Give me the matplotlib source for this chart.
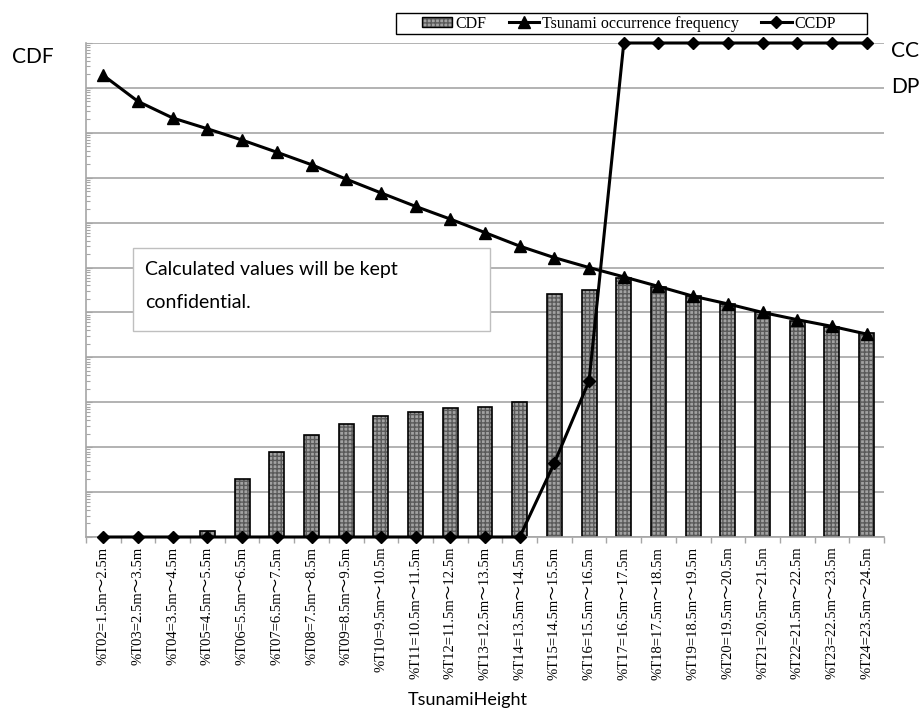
import numpy as np
import matplotlib
matplotlib.use("Agg")
import matplotlib.pyplot as plt
from matplotlib.patches import Patch, Rectangle
from matplotlib.lines import Line2D
from matplotlib.legend_handler import HandlerTuple
from matplotlib.ticker import LogLocator, NullFormatter, FixedLocator

categories = [
    "%T02=1.5m～2.5m", "%T03=2.5m～3.5m", "%T04=3.5m～4.5m", "%T05=4.5m～5.5m",
    "%T06=5.5m～6.5m", "%T07=6.5m～7.5m", "%T08=7.5m～8.5m", "%T09=8.5m～9.5m",
    "%T10=9.5m～10.5m", "%T11=10.5m～11.5m", "%T12=11.5m～12.5m", "%T13=12.5m～13.5m",
    "%T14=13.5m～14.5m", "%T15=14.5m～15.5m", "%T16=15.5m～16.5m", "%T17=16.5m～17.5m",
    "%T18=17.5m～18.5m", "%T19=18.5m～19.5m", "%T20=19.5m～20.5m", "%T21=20.5m～21.5m",
    "%T22=21.5m～22.5m", "%T23=22.5m～23.5m", "%T24=23.5m～24.5m",
]
cdf = [0, 0, 0, 1.36e-11, 1.95e-10, 7.8e-10, 1.9e-9, 3.3e-9, 4.9e-9, 6.2e-9, 7.6e-9,
       7.9e-9, 1.0e-8, 2.6e-6, 3.2e-6, 5.9e-6, 3.6e-6, 2.3e-6, 1.55e-6, 1.05e-6,
       6.6e-7, 4.7e-7, 3.5e-7]
freq = [1.9e-1, 5.0e-2, 2.14e-2, 1.23e-2, 6.9e-3, 3.7e-3, 1.95e-3, 9.3e-4, 4.6e-4,
        2.3e-4, 1.2e-4, 6.0e-5, 3.0e-5, 1.66e-5, 1.0e-5, 6.2e-6, 3.8e-6, 2.3e-6,
        1.55e-6, 1.0e-6, 6.9e-7, 4.9e-7, 3.3e-7]
ccdp = [0, 0, 0, 0, 0, 0, 0, 0, 0, 0, 0, 0, 0, 0.15, 0.316, 1, 1, 1, 1, 1, 1, 1, 1]

W, H = 922, 711
fig = plt.figure(figsize=(W / 100, H / 100), dpi=100)

def fx(px):
    return px / W

def fy(py):
    return 1 - py / H

L, R, T, B = 86, 884, 43, 537
ax = fig.add_axes([fx(L), fy(B), fx(R - L), (B - T) / H])

serif = ["Liberation Serif", "Noto Sans CJK JP"]
sans = ["Lato", "DejaVu Sans"]
grid_c = "#a6a6a6"
bar_face = "#a2a2a2"
bar_hatch = "#5a5a5a"

x = np.arange(len(categories))
ymin = 1e-11
cdf_a = np.array(cdf, dtype=float)
mask = cdf_a > 0
heights = cdf_a[mask] - ymin
bw = 0.43
ax.bar(x[mask], heights, bottom=ymin, width=bw, facecolor=bar_face,
       hatch="++++", edgecolor=bar_hatch, linewidth=0, zorder=2)
ax.bar(x[mask], heights, bottom=ymin, width=bw, fill=False,
       edgecolor="black", linewidth=1.2, zorder=2.1)

ax.plot(x, freq, color="black", lw=2.2, marker="^", markersize=9, zorder=3,
        clip_on=False)

ax.set_yscale("log")
ax.set_ylim(ymin, 1)
ax.set_xlim(-0.5, len(categories) - 0.5)
ax.yaxis.set_major_locator(LogLocator(base=10, numticks=30))
ax.yaxis.set_minor_locator(LogLocator(base=10, subs=np.arange(2, 10), numticks=30))
ax.yaxis.set_minor_formatter(NullFormatter())
ax.tick_params(axis="y", which="both", direction="in", colors=grid_c,
               labelleft=False, width=0.8)
ax.tick_params(axis="y", which="major", length=4)
ax.tick_params(axis="y", which="minor", length=3)
ax.grid(True, axis="y", which="major", color=grid_c, lw=1.2)
ax.set_axisbelow(True)

ax.set_xticks(x)
ax.set_xticklabels(categories, rotation=90, fontfamily=serif, fontsize=10.5,
                   va="top", ha="center")
ax.tick_params(axis="x", which="major", length=0, pad=7)
ax.xaxis.set_minor_locator(FixedLocator(np.arange(-0.5, len(categories), 1.0)))
ax.tick_params(axis="x", which="minor", length=4, color=grid_c, width=1.0,
               direction="out")

for s in ["top", "right"]:
    ax.spines[s].set_visible(False)
for s in ["left", "bottom"]:
    ax.spines[s].set_color(grid_c)
    ax.spines[s].set_linewidth(1.2)

ax2 = ax.twinx()
ax2.set_ylim(0, 1)
ax2.plot(x, ccdp, color="black", lw=2.2, marker="D", markersize=6.5, zorder=4,
         clip_on=False)
ax2.set_yticks([])
for s in ax2.spines.values():
    s.set_visible(False)

# x label
fig.text(fx(468), fy(700), "TsunamiHeight", family=sans, fontsize=13,
         ha="center", va="center")
# axis captions
fig.text(fx(12), fy(57), "CDF", family=sans, fontsize=15, ha="left", va="center")
fig.text(fx(891), fy(51), "CC", family=sans, fontsize=15, ha="left", va="center")
fig.text(fx(891), fy(87), "DP", family=sans, fontsize=15, ha="left", va="center")

# confidentiality note box
fig.patches.append(Rectangle((fx(133), fy(331)), fx(490 - 133), (331 - 248) / H,
                             transform=fig.transFigure, facecolor="white",
                             edgecolor="#bfbfbf", lw=1.0, zorder=5))
fig.text(fx(145), fy(270), "Calculated values will be kept", family=sans,
         fontsize=14, ha="left", va="center", zorder=6)
fig.text(fx(145), fy(302), "confidential.", family=sans,
         fontsize=14, ha="left", va="center", zorder=6)

# legend
fig.patches.append(Rectangle((fx(396), fy(34)), fx(867 - 396), (34 - 13) / H,
                             transform=fig.transFigure, facecolor="white",
                             edgecolor="black", lw=1.0, zorder=5))
h_cdf = (Patch(facecolor=bar_face, hatch="++++", edgecolor=bar_hatch, lw=0),
         Patch(fill=False, edgecolor="black", lw=1.0))
h_freq = Line2D([], [], color="black", lw=2.2, marker="^", markersize=8)
h_ccdp = Line2D([], [], color="black", lw=2.2, marker="D", markersize=6)
leg = fig.legend([h_cdf, h_freq, h_ccdp],
                 ["CDF", "Tsunami occurrence frequency", "CCDP"],
                 handler_map={tuple: HandlerTuple(ndivide=1, pad=0)},
                 loc="center", bbox_to_anchor=(fx(629), fy(23.5)), ncol=3,
                 frameon=False, prop={"family": serif, "size": 11.5},
                 handlelength=1.9, handletextpad=0.2, columnspacing=1.4,
                 borderpad=0.1, handleheight=0.6)
leg.set_zorder(6)

fig.savefig("out.png", dpi=100)
